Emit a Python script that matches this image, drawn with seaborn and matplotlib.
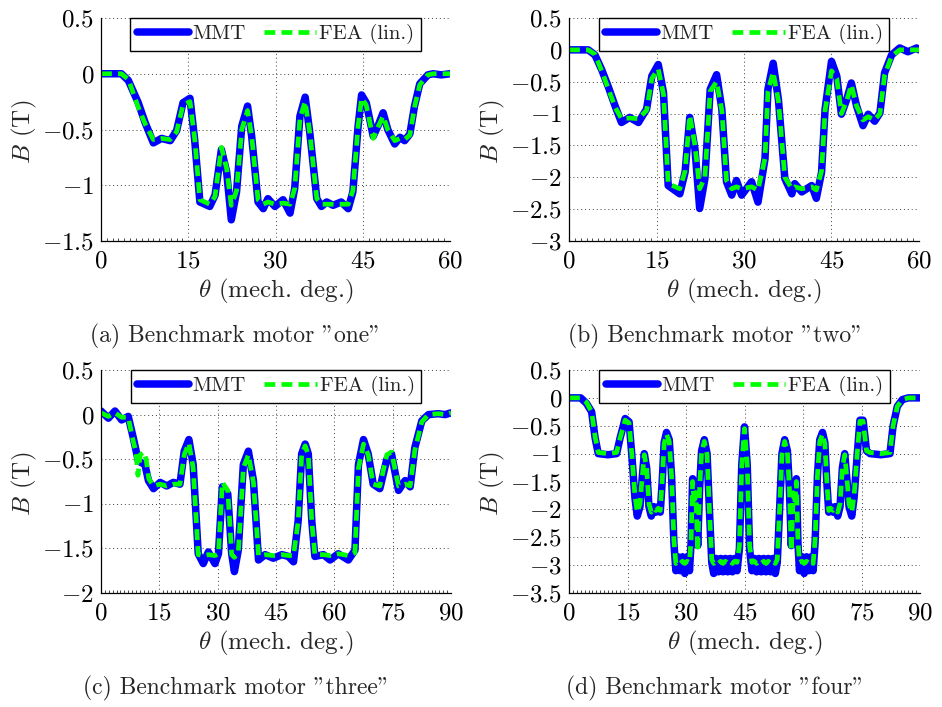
import matplotlib
matplotlib.use("Agg")
import matplotlib.pyplot as plt
from matplotlib.ticker import FuncFormatter, MultipleLocator
import pandas as pd
import seaborn as sns

# ---------------- data: airgap flux density vs. mechanical angle ----------------
# Benchmark motor "one"
theta_a = [0, 3.5, 4.7, 6.4, 7.6, 9.0, 10.4, 11.9, 13.0, 14.1,
           15.3, 16.1, 17.0, 18.7, 19.6, 20.7, 21.6, 22.4, 23.3, 24.2,
           25.2, 25.9, 27.0, 27.9, 28.7, 29.9, 31.3, 32.5, 33.3, 34.2,
           35.1, 35.9, 37.1, 37.9, 38.8, 39.9, 41.3, 42.5, 43.3, 44.2,
           44.8, 45.6, 46.8, 47.6, 48.5, 49.3, 50.5, 51.4, 52.2, 53.1,
           53.9, 54.8, 56.2, 57.1, 58.5, 60]
b_mmt_a = [0, 0, -0.06, -0.26, -0.44, -0.62, -0.58, -0.60, -0.51, -0.26,
           -0.22, -0.59, -1.15, -1.19, -1.09, -0.68, -0.88, -1.31, -1.06, -0.47,
           -0.29, -0.56, -1.15, -1.21, -1.12, -1.19, -1.13, -1.25, -1.03, -0.38,
           -0.21, -0.53, -1.12, -1.19, -1.15, -1.18, -1.15, -1.21, -1.06, -0.47,
           -0.19, -0.26, -0.56, -0.47, -0.35, -0.50, -0.63, -0.57, -0.60, -0.54,
           -0.29, -0.09, -0.01, 0.0, -0.01, 0.0]
b_fea_a = [0, 0, -0.05, -0.30, -0.45, -0.59, -0.58, -0.59, -0.52, -0.28,
           -0.25, -0.58, -1.13, -1.17, -1.10, -0.66, -0.85, -1.18, -1.05, -0.50,
           -0.33, -0.56, -1.13, -1.17, -1.15, -1.17, -1.16, -1.17, -1.03, -0.40,
           -0.25, -0.53, -1.12, -1.17, -1.17, -1.17, -1.17, -1.17, -1.05, -0.47,
           -0.22, -0.28, -0.58, -0.48, -0.38, -0.50, -0.60, -0.58, -0.59, -0.55,
           -0.30, -0.10, -0.01, 0.0, 0.0, 0.0]

# Benchmark motor "two"
theta_b = [0, 3.3, 4.45, 5.6, 6.7, 7.9, 9.0, 10.4, 11.9, 13.3,
           14.2, 15.3, 16.2, 17.0, 19.0, 19.9, 20.7, 21.6, 22.4, 23.3,
           24.2, 25.3, 26.2, 27.0, 27.9, 28.7, 29.6, 31.3, 32.4, 33.6,
           34.1, 35.0, 35.9, 37.0, 38.2, 38.7, 39.9, 41.6, 42.4, 43.3,
           43.9, 45.0, 45.9, 46.7, 47.6, 48.4, 49.3, 50.4, 51.3, 52.4,
           53.3, 54.1, 55.3, 56.7, 58.1, 59.6, 60]
b_mmt_b = [0, 0, -0.08, -0.31, -0.57, -0.88, -1.14, -1.06, -1.14, -0.93,
           -0.41, -0.23, -0.67, -2.13, -2.26, -1.92, -1.06, -1.56, -2.49, -2.02,
           -0.62, -0.39, -0.93, -2.07, -2.28, -2.05, -2.28, -2.07, -2.39, -1.71,
           -0.62, -0.21, -0.78, -2.02, -2.26, -2.10, -2.23, -2.13, -2.33, -1.92,
           -0.93, -0.18, -0.41, -1.01, -0.78, -0.52, -0.88, -1.19, -1.01, -1.12,
           -0.99, -0.36, -0.08, 0.03, -0.03, 0.03, 0.0]
b_fea_b = [0, 0, -0.07, -0.33, -0.60, -0.90, -1.08, -1.07, -1.08, -0.95,
           -0.45, -0.30, -0.70, -2.10, -2.18, -1.90, -1.03, -1.50, -2.18, -2.00,
           -0.65, -0.50, -0.95, -2.05, -2.18, -2.15, -2.18, -2.15, -2.20, -1.70,
           -0.65, -0.35, -0.80, -2.00, -2.18, -2.15, -2.18, -2.15, -2.20, -1.90,
           -0.95, -0.33, -0.45, -1.00, -0.80, -0.55, -0.88, -1.10, -1.05, -1.10,
           -1.00, -0.40, -0.10, 0.0, 0.0, 0.0, 0.0]

# Benchmark motor "three"
theta_c_mmt = [0, 1.9, 3.6, 5.3, 7.0, 8.3, 9.6, 11.3, 12.2, 13.5,
               15.2, 16.9, 18.6, 20.3, 21.4, 22.6, 23.7, 25.0, 26.3, 27.6,
               29.3, 30.2, 31.2, 32.6, 33.6, 34.3, 35.3, 36.6, 37.9, 39.2,
               40.5, 42.2, 44.3, 46.5, 48.2, 49.5, 50.7, 51.6, 52.5, 53.3,
               54.2, 55.0, 57.2, 58.9, 61.0, 63.6, 65.3, 66.2, 67.5, 68.7,
               70.0, 71.7, 73.5, 74.7, 76.5, 78.2, 79.5, 80.7, 82.5, 84.2,
               86.7, 88.5, 90]
b_mmt_c = [0.04, -0.04, 0.04, -0.06, -0.02, -0.26, -0.52, -0.56, -0.74, -0.83,
           -0.76, -0.80, -0.76, -0.78, -0.41, -0.28, -0.56, -1.56, -1.67, -1.54,
           -1.67, -1.56, -0.81, -0.89, -1.56, -1.76, -1.52, -0.56, -0.41, -0.74,
           -1.63, -1.57, -1.61, -1.57, -1.59, -1.65, -1.19, -0.44, -0.33, -0.44,
           -1.19, -1.59, -1.57, -1.63, -1.56, -1.63, -1.52, -0.56, -0.28, -0.44,
           -0.78, -0.83, -0.50, -0.44, -0.85, -0.74, -0.81, -0.37, -0.07, 0.0,
           0.01, 0.0, 0.02]
theta_c_fea = [0, 1.9, 3.6, 5.3, 7.0, 8.3, 9.0, 9.5, 10.1, 11.0,
               11.6, 12.3, 13.5, 15.2, 16.9, 18.6, 20.3, 21.4, 22.6, 23.7,
               25.0, 26.3, 27.6, 29.3, 30.2, 31.2, 32.6, 33.6, 34.3, 35.3,
               36.6, 37.9, 39.2, 40.5, 42.2, 44.3, 46.5, 48.2, 49.5, 50.7,
               51.6, 52.5, 53.3, 54.2, 55.0, 57.2, 58.9, 61.0, 63.6, 65.3,
               66.2, 67.5, 68.7, 70.0, 71.7, 73.5, 74.7, 76.5, 78.2, 79.5,
               80.7, 82.5, 84.2, 86.7, 88.5, 90]
b_fea_c = [0.02, -0.02, 0.02, -0.03, -0.03, -0.30, -0.42, -0.68, -0.45, -0.42,
           -0.50, -0.72, -0.80, -0.78, -0.80, -0.78, -0.78, -0.45, -0.32, -0.60,
           -1.57, -1.58, -1.57, -1.58, -1.56, -0.76, -0.85, -1.57, -1.60, -1.55,
           -0.60, -0.45, -0.76, -1.58, -1.57, -1.58, -1.57, -1.58, -1.58, -1.20,
           -0.45, -0.35, -0.45, -1.20, -1.57, -1.57, -1.58, -1.56, -1.58, -1.55,
           -0.60, -0.33, -0.45, -0.78, -0.80, -0.45, -0.42, -0.80, -0.78, -0.80,
           -0.40, -0.08, 0.0, 0.01, 0.0, 0.02]

# Benchmark motor "four"
theta_d = [0, 3.0, 4.5, 5.8, 6.7, 7.5, 10.0, 12.2, 13.1, 14.4,
           15.4, 16.1, 16.9, 17.5, 18.2, 18.7, 19.3, 19.9, 20.5, 21.1,
           21.7, 22.3, 22.9, 23.4, 23.9, 24.4, 25.0, 25.7, 26.3, 26.9,
           27.4, 27.9, 28.5, 29.1, 29.7, 30.3, 30.9, 31.3, 31.7, 32.1,
           32.5, 33.0, 33.5, 34.0, 34.7, 35.4, 36.0, 36.6, 37.1, 37.7,
           38.3, 38.9, 39.5, 40.1, 40.7, 41.3, 41.9, 42.5, 43.1, 43.7,
           44.3, 45.0, 45.7, 46.3, 46.9, 47.5, 48.1, 48.7, 49.3, 49.9,
           50.5, 51.1, 51.7, 52.3, 52.9, 53.4, 54.0, 54.6, 55.3, 56.0,
           56.5, 57.0, 57.5, 57.9, 58.3, 58.7, 59.1, 59.7, 60.3, 60.9,
           61.5, 62.1, 62.6, 63.1, 63.7, 64.3, 65.0, 65.6, 66.1, 66.6,
           67.1, 67.7, 68.3, 68.9, 69.5, 70.1, 70.7, 71.3, 71.8, 72.5,
           73.1, 73.9, 74.6, 75.4, 76.3, 77.2, 80.0, 82.3, 83.1, 84.2,
           85.5, 87.0, 90.0]
b_mmt_d = [0, 0, -0.10, -0.25, -0.72, -1.00, -1.02, -1.00, -0.72, -0.37,
           -0.43, -1.02, -1.79, -2.12, -1.95, -1.50, -1.00, -1.25, -1.95, -2.12,
           -1.95, -2.05, -1.95, -2.05, -1.50, -0.80, -0.62, -0.75, -1.40, -2.60,
           -3.10, -2.85, -3.10, -2.85, -3.15, -2.85, -3.10, -2.60, -1.45, -1.85,
           -1.65, -2.65, -1.60, -0.95, -0.75, -1.00, -2.00, -2.95, -3.15, -2.88,
           -3.12, -2.88, -3.12, -2.88, -3.12, -2.88, -3.12, -2.88, -3.10, -2.70,
           -1.20, -0.52, -1.20, -2.70, -3.10, -2.88, -3.12, -2.88, -3.12, -2.88,
           -3.12, -2.88, -3.12, -2.88, -3.15, -2.95, -2.00, -1.00, -0.75, -0.95,
           -1.60, -2.65, -1.65, -1.85, -1.45, -2.60, -3.10, -2.85, -3.15, -2.85,
           -3.10, -2.85, -3.10, -2.60, -1.40, -0.75, -0.62, -0.80, -1.50, -2.05,
           -1.95, -2.05, -1.95, -2.12, -1.95, -1.25, -1.00, -1.50, -1.95, -2.12,
           -1.79, -1.02, -0.40, -0.40, -0.95, -1.00, -1.02, -1.00, -0.50, -0.15,
           -0.03, 0.0, 0.0]
b_fea_d = [0, 0, -0.08, -0.25, -0.70, -0.98, -1.00, -0.98, -0.72, -0.40,
           -0.45, -1.00, -1.75, -2.05, -1.90, -1.48, -1.02, -1.25, -1.90, -2.05,
           -1.98, -2.02, -1.98, -2.02, -1.48, -0.82, -0.65, -0.78, -1.40, -2.55,
           -2.97, -2.93, -2.97, -2.93, -2.97, -2.93, -2.95, -2.55, -1.50, -1.90,
           -1.70, -2.75, -1.60, -0.98, -0.78, -1.02, -2.00, -2.90, -2.97, -2.93,
           -2.97, -2.93, -2.97, -2.93, -2.97, -2.93, -2.97, -2.93, -2.95, -2.65,
           -1.20, -0.55, -1.20, -2.65, -2.95, -2.93, -2.97, -2.93, -2.97, -2.93,
           -2.97, -2.93, -2.97, -2.93, -2.97, -2.90, -2.00, -1.02, -0.78, -0.98,
           -1.60, -2.75, -1.70, -1.90, -1.50, -2.55, -2.95, -2.93, -2.97, -2.93,
           -2.97, -2.93, -2.97, -2.55, -1.40, -0.78, -0.65, -0.82, -1.48, -2.02,
           -1.98, -2.02, -1.98, -2.05, -1.90, -1.25, -1.02, -1.48, -1.90, -2.05,
           -1.75, -1.00, -0.42, -0.42, -0.95, -0.98, -1.00, -0.98, -0.50, -0.15,
           -0.03, 0.0, 0.0]

captions = ['(a) Benchmark motor "one"', '(b) Benchmark motor "two"',
            '(c) Benchmark motor "three"', '(d) Benchmark motor "four"']
x_limits = [60, 60, 90, 90]
y_bottoms = [-1.5, -3.0, -2.0, -3.5]

# ---------------- styling ----------------
sns.set_theme(style="white")
plt.rcParams.update({
    "font.family": ["cmr10", "DejaVu Serif"],
    "mathtext.fontset": "cm",
    "axes.formatter.use_mathtext": True,
    "axes.unicode_minus": True,
    "axes.edgecolor": "black",
    "axes.linewidth": 0.9,
})

W, H = 942, 707
fig = plt.figure(figsize=(W / 100, H / 100), dpi=100)

# axes boxes in pixels: left, right, top, bottom
boxes = [(101, 450, 18, 241), (569, 919, 18, 241),
         (101, 451, 370, 593), (569, 920, 370, 593)]
caption_x = [236, 715, 236, 715]
caption_y = [336, 336, 688, 688]

series = [
    (theta_a, b_mmt_a, theta_a, b_fea_a),
    (theta_b, b_mmt_b, theta_b, b_fea_b),
    (theta_c_mmt, b_mmt_c, theta_c_fea, b_fea_c),
    (theta_d, b_mmt_d, theta_d, b_fea_d),
]

tick_fmt = FuncFormatter(lambda v, p: f"${v:g}$")

for i, (x1, y1, x2, y2) in enumerate(series):
    assert len(x1) == len(y1) and len(x2) == len(y2)
    l, r, t, b = boxes[i]
    ax = fig.add_axes([l / W, 1 - b / H, (r - l) / W, (b - t) / H])

    mmt = pd.DataFrame({"theta": x1, "B": y1})
    fea = pd.DataFrame({"theta": x2, "B": y2})
    sns.lineplot(data=mmt, x="theta", y="B", ax=ax, sort=False, estimator=None,
                 color=(0, 0, 1), linewidth=5.4, label="MMT",
                 solid_joinstyle="round", solid_capstyle="round")
    sns.lineplot(data=fea, x="theta", y="B", ax=ax, sort=False, estimator=None,
                 color=(0, 1, 0), linewidth=3.4, label="FEA (lin.)")
    ax.lines[-1].set_dashes([2.3, 1.3])

    ax.set_xlim(0, x_limits[i])
    ax.set_ylim(y_bottoms[i], 0.5)
    ax.xaxis.set_major_locator(MultipleLocator(15))
    ax.xaxis.set_minor_locator(MultipleLocator(1))
    ax.yaxis.set_major_locator(MultipleLocator(0.5))
    ax.xaxis.set_major_formatter(tick_fmt)
    ax.yaxis.set_major_formatter(tick_fmt)
    ax.tick_params(axis="both", which="major", direction="in", length=4,
                   width=0.8, color="black", labelsize=18, labelcolor="black")
    ax.tick_params(axis="x", which="major", pad=7)
    ax.tick_params(axis="y", which="major", pad=5)
    ax.tick_params(axis="x", which="minor", direction="in", length=2,
                   width=0.5, color="black", bottom=True)
    ax.grid(True, which="major", color="0.25", linestyle=(0, (1, 3)),
            linewidth=0.7)
    ax.spines["top"].set_visible(False)
    ax.spines["right"].set_visible(False)
    ax.set_xlabel("")
    ax.set_ylabel("")

    leg = ax.legend(loc="upper center", bbox_to_anchor=(0.5, 1.0), ncol=2,
                    frameon=True, fancybox=False, edgecolor="black",
                    framealpha=1, fontsize=15, handlelength=2.5,
                    handletextpad=0.15, columnspacing=0.9, borderaxespad=0,
                    borderpad=0.3)
    leg.get_frame().set_linewidth(1.0)
    for txt in leg.get_texts():
        txt.set_color("#222222")

    # axis labels and sub-figure caption
    fig.text(((l + r) / 2) / W, 1 - (t + 273) / H, r"$\theta$ (mech. deg.)",
             ha="center", va="center", fontsize=18)
    fig.text((l - 77) / W, 1 - ((t + b) / 2 + 2) / H, r"$B$ (T)",
             ha="center", va="center", rotation=90, fontsize=18)
    fig.text(caption_x[i] / W, 1 - caption_y[i] / H, captions[i],
             ha="center", va="center", fontsize=17)

fig.savefig("out.png", dpi=100)
